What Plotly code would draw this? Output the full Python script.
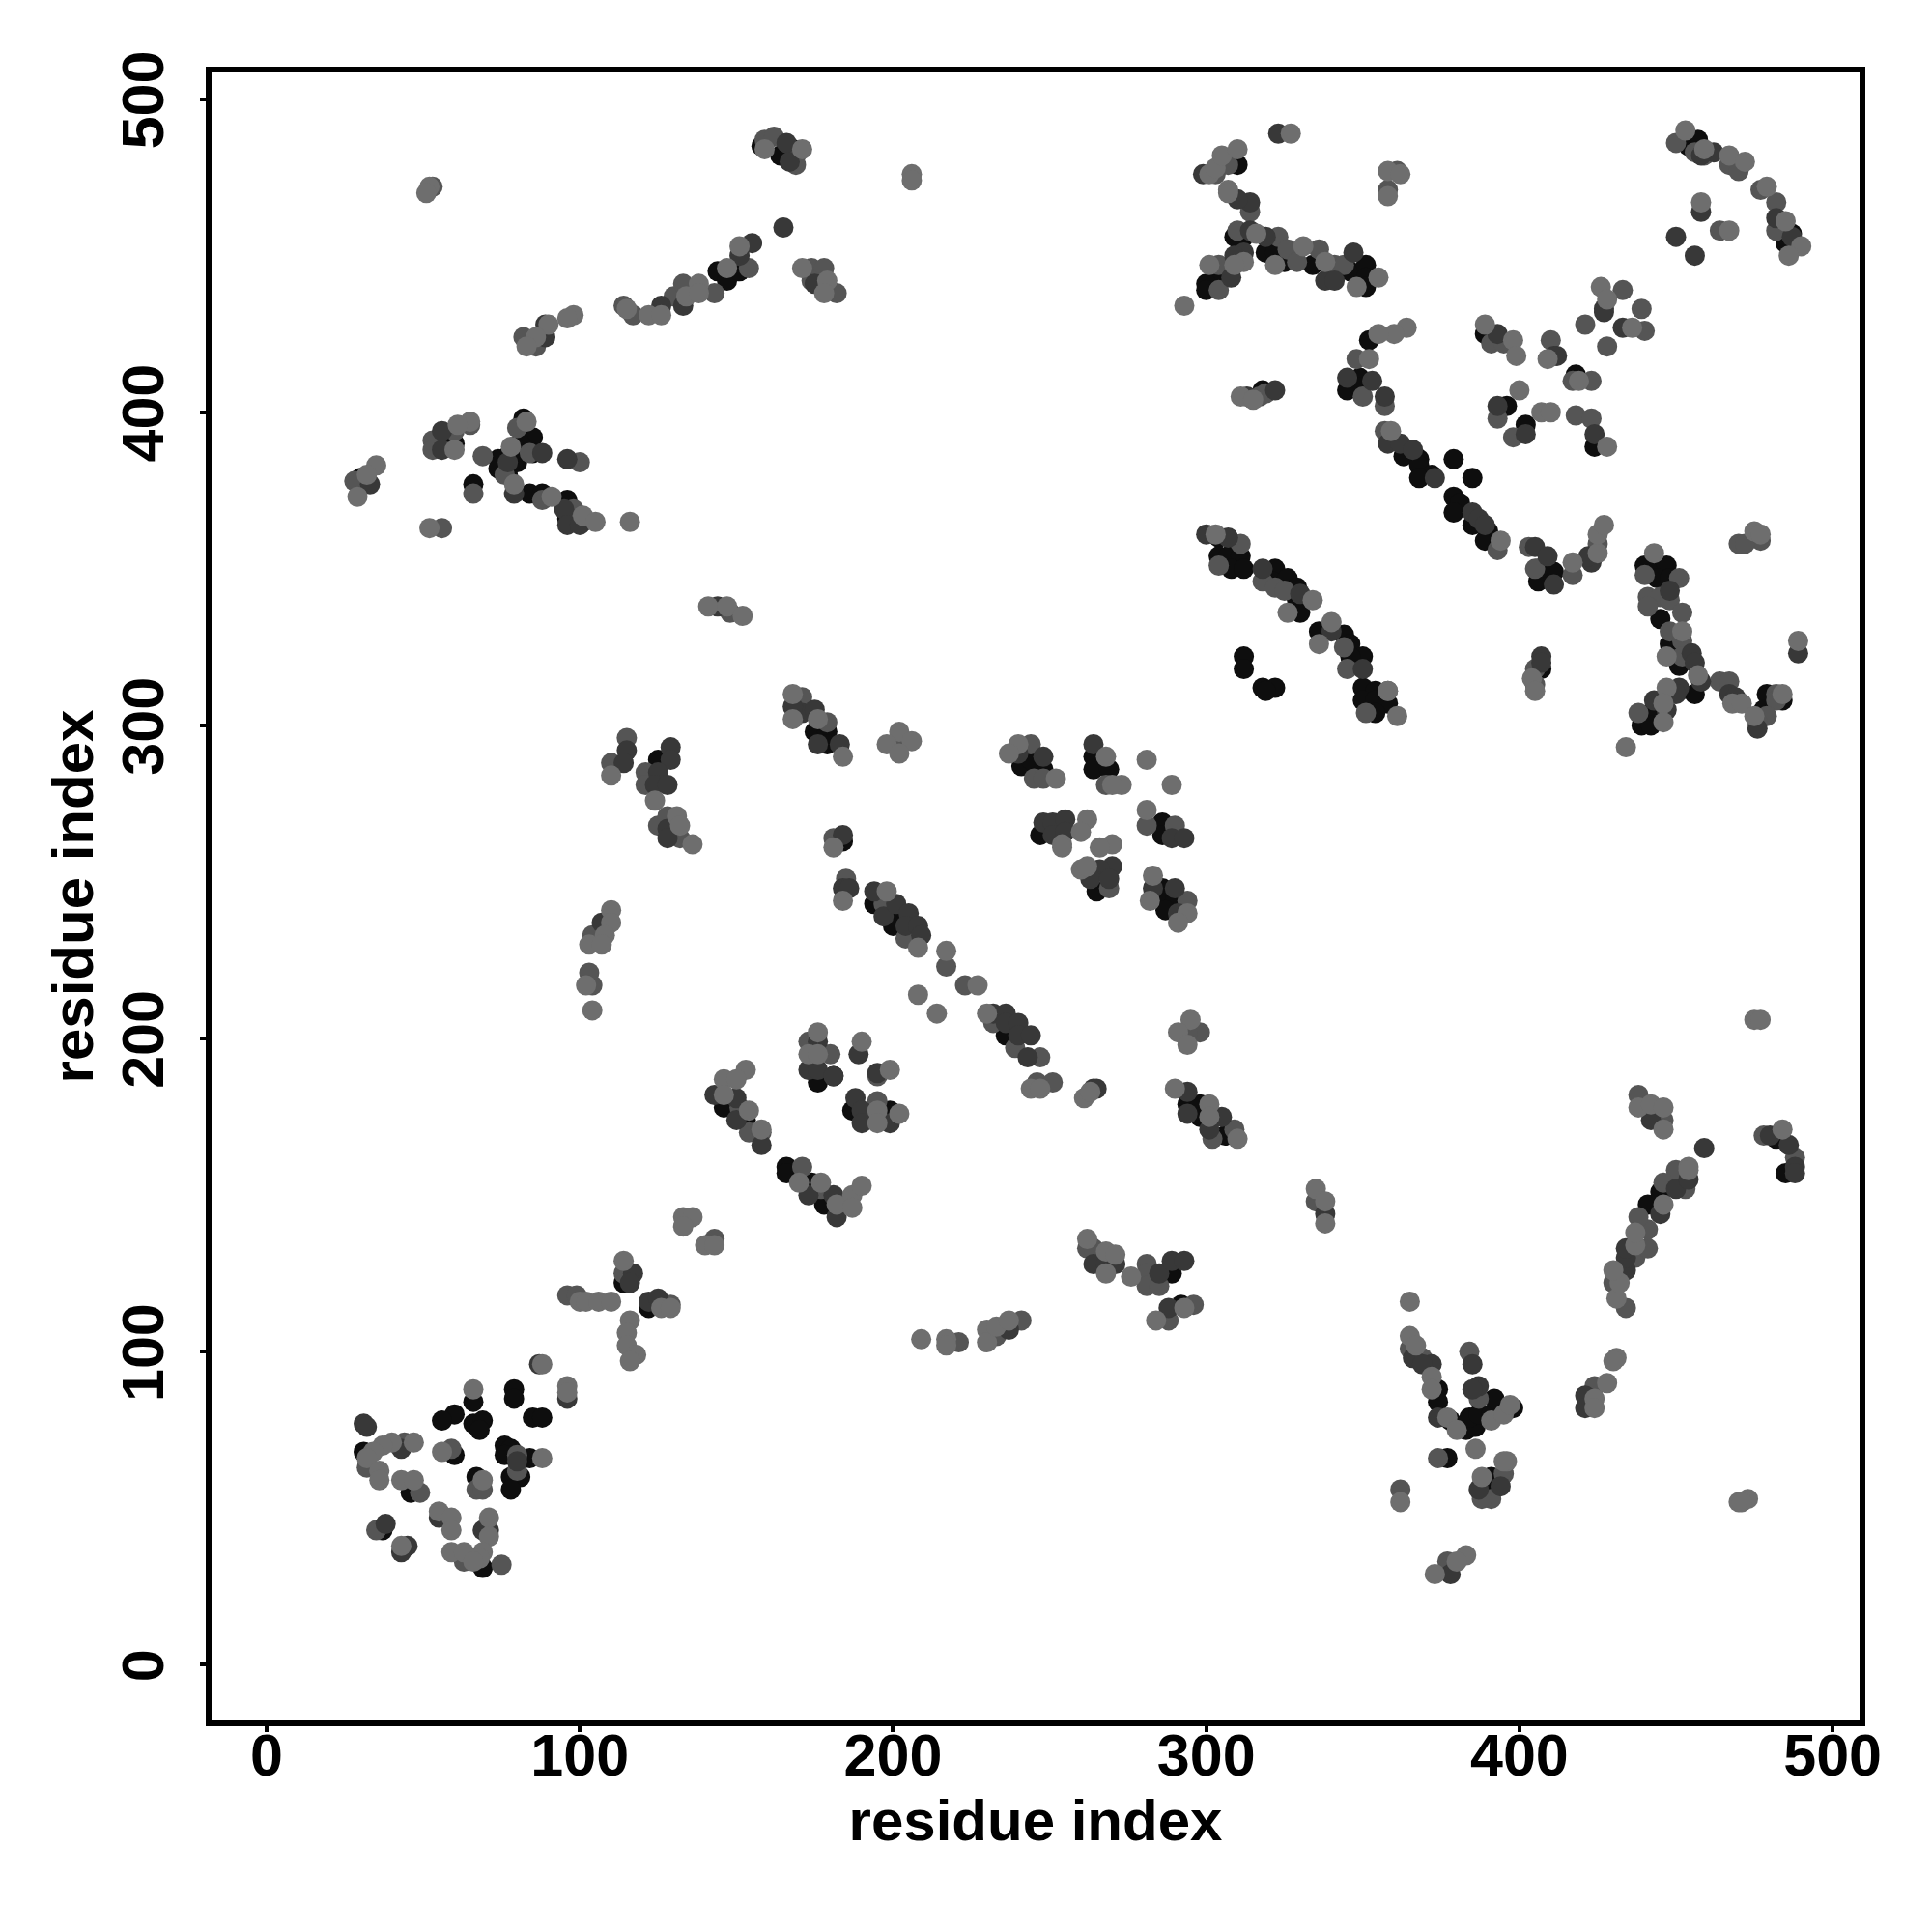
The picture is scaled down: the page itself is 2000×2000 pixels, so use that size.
import plotly.graph_objects as go

axis_title = "residue index"
tick_values = [0, 100, 200, 300, 400, 500]
tick_labels = ["0", "100", "200", "300", "400", "500"]

light_contacts = [
(52,472),(51,470),(115,433),(122,431),(126,431),(134,437),(138,441),(138,438),(147,446),(151,453),
(98,431),(96,430),(90,428),(86,424),(83,421),(65,397),(61,396),(60,388),(35,383),(32,380),(29,373),(83,397),(78,389),
(79,377),(91,373),(101,367),(105,365),(116,365),(52,363),(141,338),(147,338),(152,335),
(159,484),(171,484),(206,476),(206,474),(171,446),(179,442),(178,438),(293,434),(301,476),(303,478),(305,482),(310,484),
(327,489),(307,471),(307,470),(316,457),(322,447),(331,453),(312,448),(309,447),(301,447),(311,405),(315,404),(303,361),(334,340),(326,336),
(453,490),(459,484),(467,482),(472,480),(479,472),(485,461),(490,453),(486,450),(458,467),(467,458),
(358,477),(362,476),(358,469),(338,448),(348,440),(355,443),(364,427),(360,425),(355,425),(352,417),
(359,394),(394,359),(389,428),(398,423),(399,418),(409,417),(426,440),(428,436),(436,427),(419,410),(400,407),(407,400),(410,400),(428,389),
(417,352),(425,355),(425,361),(427,364),(475,362),(477,361),(443,355),
(110,284),(124,276),(131,271),(132,268),(136,262),(110,241),(110,237),(108,233),(103,230),(107,230),(102,217),(104,209),
(153,190),(146,187),(150,187),(146,182),(154,177),(158,171),
(168,310),(168,302),(176,302),(184,290),(202,298),(198,294),(206,295),(202,291),(181,261),(184,244),(198,247),(208,229),(217,228),(227,217),(208,214),(214,208),(230,208),
(240,294),(237,291),(252,283),(268,290),(273,281),(270,281),(281,289),(289,281),(281,273),(262,270),(260,266),(254,262),(254,261),(270,262),(266,261),(260,254),(262,255),
(283,252),(282,244),(294,240),(291,237),(176,202),(173,195),(176,195),(190,199),(199,190),(195,177),(195,173),(202,176),(290,184),(301,179),(301,175),(310,168),
(244,184),(247,184),(261,181),(263,183),(295,206),(291,202),(294,198),
(336,326),(340,333),(358,311),(361,303),(404,315),(405,311),(452,330),(447,322),(457,316),(447,312),(446,307),(446,301),(434,293),(468,307),(471,307),(484,310),(475,303),(489,327),
(475,206),(477,206),(438,178),(442,179),(446,178),(446,171),(454,159),(484,171),
(133,143),(136,143),(133,140),(140,134),(143,134),(114,129),(100,116),(102,116),(106,116),(110,116),(126,114),(129,114),(116,110),(115,106),(115,102),(118,99),(116,97),
(88,96),(96,89),(96,87),(66,88),(47,71),(40,71),(37,70),(34,68),(32,66),(36,62),(36,59),(56,68),(88,66),(69,59),(43,59),(47,59),
(55,49),(59,47),(59,43),(71,47),(71,41),(69,36),(68,34),(59,36),(63,36),(66,33),(43,38),
(170,154),(177,154),(182,147),(187,150),(187,146),(190,153),(209,104),(217,104),(217,102),(230,107),(230,103),(233,108),(237,110),
(262,136),(268,132),(271,131),(268,125),(276,124),(293,114),(284,110),
(335,152),(338,148),(338,141),(365,116),(365,105),(367,102),(372,92),(372,88),(377,79),(380,75),(391,78),(395,80),(397,83),(386,69),(362,52),(396,65),(395,65),(388,60),
(383,35),(380,33),(373,29),(428,90),(424,85),(424,82),(431,98),(430,97),(473,53),(470,52),(471,52),
(431,117),(432,122),(430,126),(437,134),(437,138),(446,147),(454,158),
]

mid_contacts = [
(53,472),(114,434),(117,431),(130,437),(133,441),(143,438),(154,446),(86,421),(82,424),(65,396),(60,394),(53,391),(53,388),
(28,378),(69,386),(66,374),(80,395),(84,387),(76,380),(88,372),(98,369),(101,365),(100,384),(56,363),(148,336),
(159,487),(162,488),(169,482),(169,479),(174,446),(178,446),(174,442),(182,438),(303,476),(307,479),(314,464),(310,458),(323,456),(326,452),(329,448),(304,447),(304,439),
(317,405),(319,406),(311,358),(304,351),(318,346),(322,344),(325,343),
(450,486),(456,483),(459,482),(467,479),(470,477),(477,471),(482,467),(482,458),(361,477),(358,471),(464,458),
(336,452),(341,447),(344,447),(348,417),(350,405),(357,402),(357,394),(393,356),(403,357),(405,350),(417,348),(391,422),(395,422),
(410,423),(433,439),(439,433),(421,428),(440,426),(428,421),(417,410),(423,410),(393,398),(398,392),(418,399),(423,398),
(425,358),(477,359),(470,358),(472,358),(440,348),(451,347),(441,341),(445,341),(448,340),(441,338),(452,336),
(115,296),(110,288),(121,285),(121,281),(125,268),(128,271),(132,264),(104,233),(103,221),(104,217),(151,178),(154,170),
(171,309),(179,301),(202,294),(181,264),(185,251),(197,243),(204,232),(217,223),(223,217),(232,205),(239,197),(247,194),
(244,294),(245,283),(248,283),(268,281),(281,268),(290,268),(269,248),(294,244),(173,199),(180,195),(195,188),(195,180),
(302,168),(309,171),(246,186),(251,186),(298,202),(294,202),(158,170),(171,159),
(344,325),(345,318),(351,304),(358,311),(405,318),(405,313),(448,330),(452,327),(452,322),(438,304),(464,314),(467,314),(482,310),(482,308),(479,303),(476,301),
(438,182),(446,174),(450,158),(478,169),(488,162),
(143,136),(114,125),(96,118),(99,118),(129,115),(44,71),(32,63),(59,69),(80,67),(80,62),(67,56),(69,56),(49,55),(35,43),(75,32),(63,33),
(177,152),(221,103),(233,105),(241,110),(262,133),(264,133),(281,128),(281,125),(281,121),(285,121),(296,115),(288,110),
(335,148),(365,101),(369,98),(384,100),(387,85),(374,66),(362,56),(395,61),(391,53),(388,53),(377,33),(424,89),
(434,114),(430,122),(437,130),(441,133),(441,139),(438,143),(446,154),(453,152),
]

black_contacts = [
(144,445),(148,445),(147,442),(151,445),(56,390),(60,390),(30,379),(66,377),(82,398),(85,392),(81,390),(79,389),(85,387),(77,386),(74,385),(74,382),(80,384),(77,380),(84,374),(88,374),(96,372),(96,366),
(158,485),(168,484),(164,482),(178,443),(310,479),(309,456),(312,456),(319,451),(322,451),(325,448),(304,443),(300,441),(300,439),
(318,407),(304,360),(304,354),(307,354),(311,354),(308,350),(312,350),(322,350),(321,346),(326,347),(329,344),(329,340),(330,336),
(454,485),(457,487),(484,457),(487,457),(485,454),(334,447),(346,445),(351,447),(351,443),(351,440),(352,423),(349,411),(345,407),(349,408),
(363,386),(368,385),(368,383),(372,380),(368,379),(379,385),(385,379),(379,373),(381,371),(379,368),(385,364),(390,362),(389,359),
(406,346),(411,349),(406,350),(389,425),(396,402),(402,396),(418,412),(424,389),(440,351),(444,351),(447,351),(444,347),(448,347),(445,334),
(125,289),(146,178),(153,174),(175,298),(179,298),(179,294),(184,263),(194,243),(201,239),(200,236),(236,201),
(241,287),(244,289),(248,286),(264,290),(264,286),(269,286),(286,269),(286,265),(247,265),(265,247),(286,248),(286,244),(290,244),(287,241),
(312,322),(312,318),(318,312),(322,312),(319,311),(181,188),(176,186),(187,177),(199,177),(294,179),(298,179),(298,175),(306,169),(166,159),
(336,330),(344,329),(346,326),(350,322),(346,322),(350,312),(354,311),(350,308),(354,308),(358,307),(354,304),(407,318),(448,326),(451,319),(456,310),(451,311),(442,304),(439,300),(442,300),(479,310),(484,308),(478,305),(482,168),
(66,84),(60,80),(56,78),(66,77),(69,78),(68,75),(79,88),(79,85),(85,79),(88,79),(31,68),(60,67),(76,70),(78,69),(76,67),(84,66),(78,60),(81,60),(78,56),(67,60),(46,55),(37,43),(69,31),(114,122),(122,114),
(166,157),(174,154),(178,147),(289,125),(292,115),(378,78),(374,88),(374,84),(383,75),(386,76),(384,79),(387,80),(391,80),(392,85),(398,82),(377,66),(391,60),(391,56),
(441,147),(445,151),(450,155),(485,157),
]

dark_contacts = [
(126,434),(133,434),(151,450),(155,454),(89,428),(89,424),(56,394),(56,388),(33,377),(88,387),(77,384),(79,374),(95,369),(96,364),(100,364),(96,385),(144,338),
(166,486),(167,480),(165,459),(175,441),(299,476),(314,467),(310,468),(314,458),(319,456),(312,451),(309,450),(308,443),(322,407),(300,361),(307,360),(318,350),(330,342),(323,489),(313,405),
(462,483),(482,462),(487,456),(450,456),(458,464),(456,450),(458,482),
(338,442),(341,442),(347,451),(345,411),(353,410),(357,405),(358,390),(362,390),(366,388),(373,379),(385,368),(387,366),(389,364),
(405,357),(409,354),(411,345),(423,352),(422,354),(393,425),(411,418),(412,418),(427,433),(427,432),(433,427),(393,402),(402,393),(424,393),(448,343),
(115,292),(114,288),(129,293),(129,289),(125,285),(124,281),(128,281),(128,267),(128,264),(107,237),
(143,182),(150,181),(150,174),(158,166),(171,304),(168,306),(175,305),(176,294),(183,294),(184,265),(184,248),(186,248),
(194,247),(197,239),(201,243),(205,240),(204,236),(208,236),(209,233),(232,208),(236,208),(236,205),(240,205),(240,201),(244,201),(243,194),
(240,291),(248,290),(264,294),(248,269),(251,269),(255,270),(251,265),(255,266),(289,264),(293,264),(270,255),(266,254),(263,251),(269,251),(283,248),(290,248),(291,240),
(173,190),(176,190),(176,199),(181,188),(189,195),(195,189),(188,181),(190,177),(190,173),(199,173),(294,183),(294,176),(305,175),(301,171),
(264,184),(265,184),(340,330),(350,318),(407,322),(407,320),(455,323),(456,320),(458,314),(451,312),(450,310),(443,308),(447,305),(467,310),(469,309),(476,299),(489,323),
(442,174),(459,165),(480,169),(486,166),(488,159),
(117,125),(116,122),(122,116),(125,117),(31,77),(32,76),(43,69),(80,65),(87,96),(96,85),(55,47),(38,45),(45,38),(43,36),(71,43),(69,43),
(173,150),(181,150),(182,143),(237,107),(264,128),(268,128),(271,128),(285,125),(289,129),(293,129),(288,114),
(338,144),(366,98),(372,96),(369,96),(374,79),(385,96),(387,89),(385,88),(394,57),(387,56),(378,29),(421,86),(421,82),
(434,126),(434,130),(434,133),(445,144),(450,152),(454,155),(488,157),
]

layers = [
    (black_contacts, "#0e0e0e"),
    (mid_contacts, "#555555"),
    (dark_contacts, "#383838"),
    (light_contacts, "#6e6e6e"),
]

fig = go.Figure()
for pts, color in layers:
    fig.add_trace(go.Scatter(
        x=[p[0] for p in pts], y=[p[1] for p in pts], mode="markers",
        marker=dict(size=21, color=color, line=dict(width=0)),
        showlegend=False,
    ))

label_font = dict(family="Liberation Sans", size=61, color="black", weight=700)
title_font = dict(family="Liberation Sans", size=60, color="black", weight=700)
axis_common = dict(
    tickmode="array", tickvals=tick_values, ticktext=tick_labels,
    showgrid=False, zeroline=False, showline=True, linecolor="black", linewidth=6, mirror=True,
    ticks="outside", ticklen=6, tickwidth=4, tickcolor="black", tickfont=label_font,
)
fig.update_xaxes(**axis_common, range=[-17.58, 508.6], ticklabelstandoff=-28,
                 title=dict(text=axis_title, font=title_font, standoff=9))
fig.update_yaxes(**axis_common, range=[-17.74, 508.5], tickangle=-90, ticklabelstandoff=14, ticklabelshift=10,
                 title=dict(text=axis_title, font=title_font, standoff=0))
fig.update_layout(
    width=1984, height=1984, autosize=False,
    margin=dict(l=211, r=67, t=67, b=211, autoexpand=False),
    paper_bgcolor="white", plot_bgcolor="white",
)
fig.write_html("out.html")
